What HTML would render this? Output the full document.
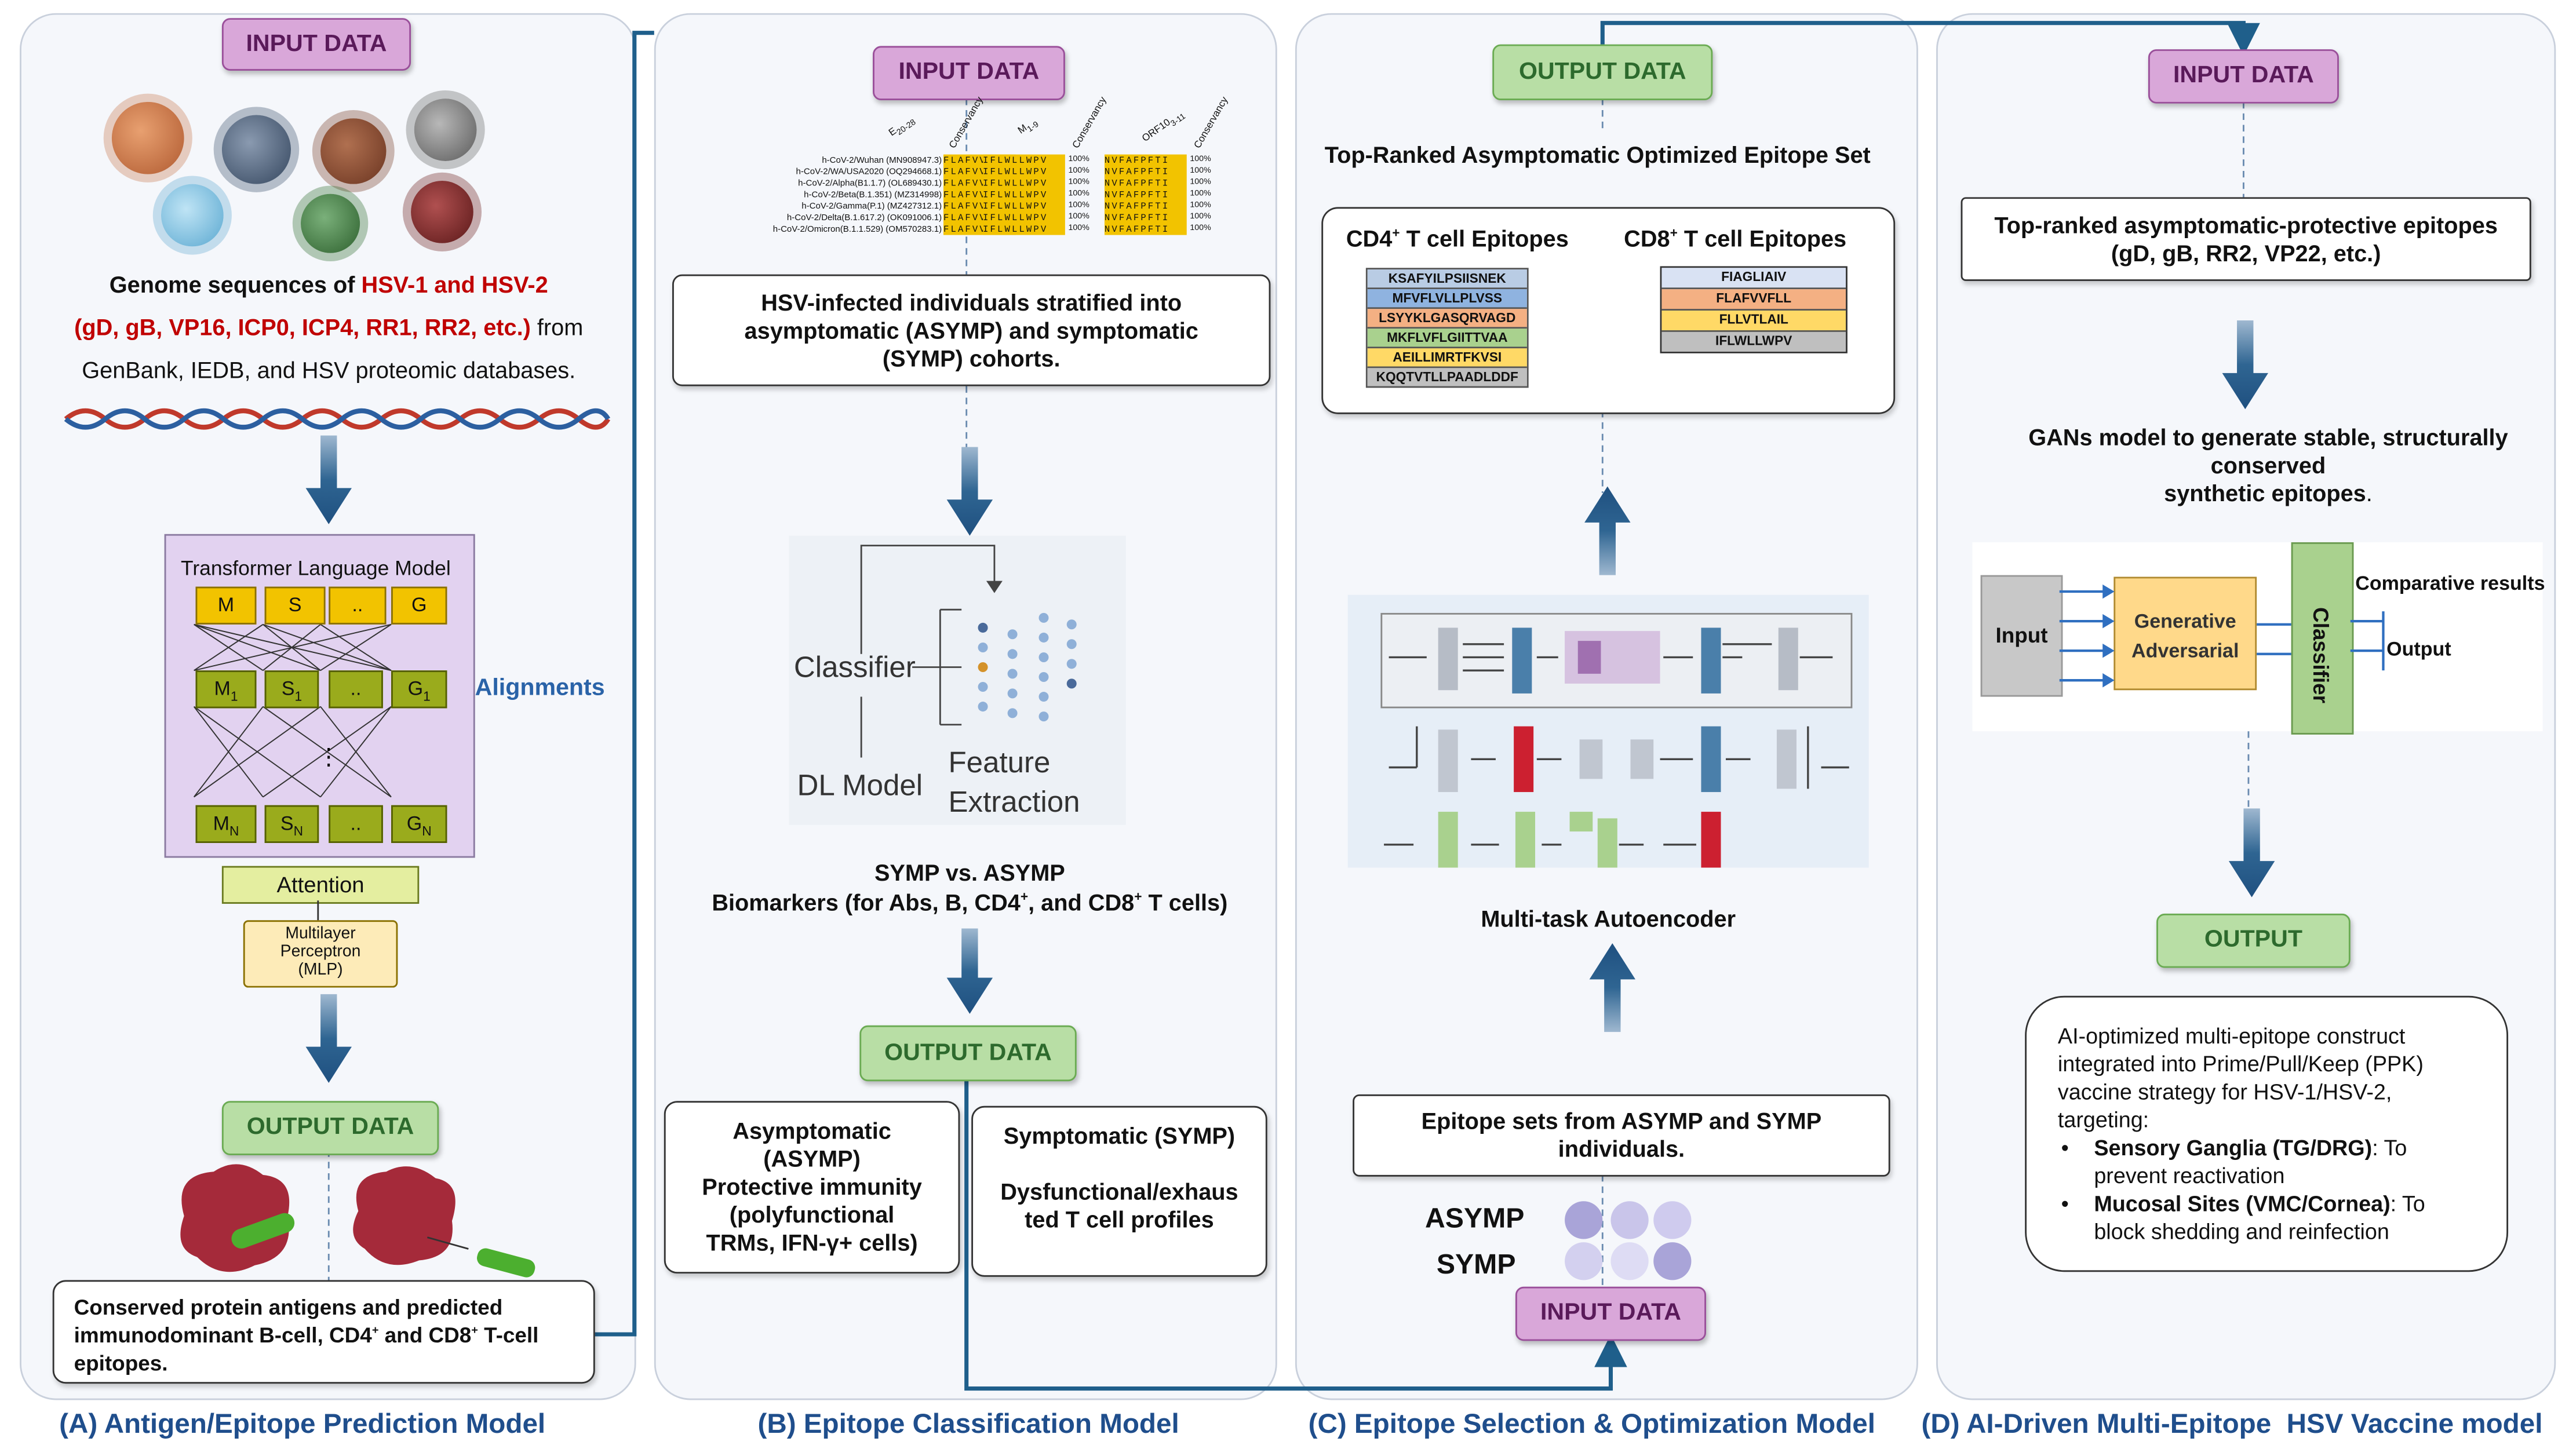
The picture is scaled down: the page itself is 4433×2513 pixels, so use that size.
<!DOCTYPE html>
<html><head><meta charset="utf-8">
<style>
html,body{margin:0;padding:0;background:#fff;}
body{width:4433px;height:2513px;overflow:hidden;}
#s{position:absolute;left:0;top:0;width:1563px;height:886px;transform:scale(2.8362);transform-origin:0 0;font-family:"Liberation Sans",sans-serif;color:#111;}
.a{position:absolute;}
.panel{position:absolute;top:8px;height:842px;background:#f5f7fb;border:1px solid #c9d0dc;border-radius:22px;}
.cap{position:absolute;top:857px;font-size:16.8px;font-weight:bold;color:#1f4e8c;white-space:nowrap;}
.inp{position:absolute;background:#d9a7d9;border:1.5px solid #9a4f9a;border-radius:5px;color:#5a1a5a;font-weight:bold;font-size:14.5px;text-align:center;box-shadow:1px 2px 3px rgba(0,0,0,.25);}
.out{position:absolute;background:#b8dea5;border:1.5px solid #6aab52;border-radius:5px;color:#2d6a2d;font-weight:bold;font-size:14.5px;text-align:center;box-shadow:1px 2px 3px rgba(0,0,0,.25);}
.box{position:absolute;background:#fff;border:1.3px solid #333;border-radius:6px;font-size:14px;font-weight:bold;text-align:center;box-shadow:1px 2px 3px rgba(0,0,0,.2);}
.t{position:absolute;font-size:14px;font-weight:bold;text-align:center;white-space:nowrap;}
.y{position:absolute;background:#f2c300;border:1px solid #8a7000;font-size:12px;text-align:center;line-height:20px;}
.g{position:absolute;background:#9aab1c;border:1px solid #556000;font-size:12px;text-align:center;line-height:20px;}
.vir{position:absolute;border-radius:50%;}
.ep{height:11px;font-size:8px;font-weight:bold;text-align:center;line-height:11px;border-bottom:1px solid #555;}
.al{position:absolute;background:#f2c300;font-size:5.5px;line-height:7px;font-family:'Liberation Mono',monospace;white-space:nowrap;letter-spacing:1.1px;overflow:hidden;height:49px;}
</style></head><body><div id="s">

<div class="panel" style="left:12px;width:373px;"></div>
<div class="panel" style="left:398px;width:377px;"></div>
<div class="panel" style="left:788px;width:377px;"></div>
<div class="panel" style="left:1178px;width:375px;"></div>

<div class="cap" style="left:36px;">(A) Antigen/Epitope Prediction Model</div>
<div class="cap" style="left:461px;">(B) Epitope Classification Model</div>
<div class="cap" style="left:796px;">(C) Epitope Selection &amp; Optimization Model</div>
<div class="cap" style="left:1169px;">(D) AI-Driven Multi-Epitope &nbsp;HSV Vaccine model</div>

<svg class="a" style="left:0;top:0" width="1563" height="886">
<defs><marker id="ah" markerWidth="8" markerHeight="8" refX="4" refY="4" orient="auto"><path d="M0,0L8,4L0,8z" fill="#1f5f8b"/></marker></defs>
<polyline points="362,812 386,812 386,20 398,20" fill="none" stroke="#1f5f8b" stroke-width="2.5"/>
<polyline points="588,657 588,845 980,845 980,822" fill="none" stroke="#1f5f8b" stroke-width="2.5" marker-end="url(#ah)"/>
<polyline points="975,27 975,14 1365,14 1365,24" fill="none" stroke="#1f5f8b" stroke-width="2.5" marker-end="url(#ah)"/>
<g stroke="#6a8bb0" stroke-width="1" stroke-dasharray="4,3">
<line x1="200" y1="700" x2="200" y2="780"/>
<line x1="588" y1="60" x2="588" y2="167"/>
<line x1="588" y1="235" x2="588" y2="280"/>
<line x1="975" y1="60" x2="975" y2="80"/>
<line x1="975" y1="250" x2="975" y2="300"/>
<line x1="975" y1="715" x2="975" y2="783"/>
<line x1="1365" y1="62" x2="1365" y2="120"/>
<line x1="1368" y1="445" x2="1368" y2="500"/>
</g>
<defs><linearGradient id="ag" x1="0" x2="0" y1="0" y2="1"><stop offset="0" stop-color="#9fb8d0"/><stop offset=".5" stop-color="#2f6592"/><stop offset="1" stop-color="#1f5080"/></linearGradient>
<linearGradient id="agu" x1="0" x2="0" y1="1" y2="0"><stop offset="0" stop-color="#9fb8d0"/><stop offset=".5" stop-color="#2f6592"/><stop offset="1" stop-color="#1f5080"/></linearGradient></defs>
<path d="M195,265h10v32h9l-14,22l-14,-22h9z" fill="url(#ag)"/>
<path d="M195,605h10v32h9l-14,22l-14,-22h9z" fill="url(#ag)"/>
<path d="M585,272h10v32h9l-14,22l-14,-22h9z" fill="url(#ag)"/>
<path d="M585,565h10v30h9l-14,22l-14,-22h9z" fill="url(#ag)"/>
<path d="M1361,195h10v32h9l-14,22l-14,-22h9z" fill="url(#ag)"/>
<path d="M1365,492h10v32h9l-14,22l-14,-22h9z" fill="url(#ag)"/>
<path d="M973,350h10v-32h9l-14,-22l-14,22h9z" fill="url(#agu)"/>
<path d="M976,628h10v-32h9l-14,-22l-14,22h9z" fill="url(#agu)"/>
<path d="M40,255 Q52,245 64,255 T88,255 T112,255 T136,255 T160,255 T184,255 T208,255 T232,255 T256,255 T280,255 T304,255 T328,255 T352,255 T370,255" fill="none" stroke="#c0392b" stroke-width="3"/>
<path d="M40,255 Q52,265 64,255 T88,255 T112,255 T136,255 T160,255 T184,255 T208,255 T232,255 T256,255 T280,255 T304,255 T328,255 T352,255 T370,255" fill="none" stroke="#2c5fa0" stroke-width="3"/>
</svg>

<!-- Panel A -->
<div class="inp" style="left:135px;top:11px;width:113px;height:30px;line-height:30px;">INPUT DATA</div>
<div class="vir" style="left:68px;top:62px;width:44px;height:44px;background:radial-gradient(circle at 40% 40%,#e8a070,#b05a30);box-shadow:0 0 0 5px rgba(200,120,80,.35);"></div>
<div class="vir" style="left:135px;top:70px;width:42px;height:42px;background:radial-gradient(circle at 40% 40%,#8a9ab0,#34465e);box-shadow:0 0 0 5px rgba(60,80,110,.35);"></div>
<div class="vir" style="left:195px;top:72px;width:40px;height:40px;background:radial-gradient(circle at 40% 40%,#b07050,#6a3420);box-shadow:0 0 0 5px rgba(120,60,40,.35);"></div>
<div class="vir" style="left:252px;top:60px;width:38px;height:38px;background:radial-gradient(circle at 40% 40%,#b8b8b8,#5a5a5a);box-shadow:0 0 0 5px rgba(100,100,100,.35);"></div>
<div class="vir" style="left:98px;top:112px;width:38px;height:38px;background:radial-gradient(circle at 40% 40%,#bfe4f5,#5aa8d0);box-shadow:0 0 0 5px rgba(100,170,210,.35);"></div>
<div class="vir" style="left:183px;top:118px;width:36px;height:36px;background:radial-gradient(circle at 40% 40%,#7ab07a,#2d602d);box-shadow:0 0 0 5px rgba(50,110,50,.35);"></div>
<div class="vir" style="left:250px;top:110px;width:38px;height:38px;background:radial-gradient(circle at 40% 40%,#b05050,#5a1818);box-shadow:0 0 0 5px rgba(110,30,30,.35);"></div>
<div class="t" style="left:20px;top:160px;width:360px;font-size:14px;line-height:26px;">Genome sequences of <span style="color:#c00000">HSV-1 and HSV-2</span><br><span style="color:#c00000">(gD, gB, VP16, ICP0, ICP4, RR1, RR2, etc.)</span> <span style="font-weight:normal">from</span><br><span style="font-weight:normal">GenBank, IEDB, and HSV proteomic databases.</span></div>

<div class="a" style="left:100px;top:325px;width:187px;height:195px;background:#e2d2f0;border:1px solid #8a7aa0;"></div>
<div class="a" style="left:110px;top:339px;font-size:12.5px;">Transformer Language Model</div>
<svg class="a" style="left:100px;top:325px" width="187" height="195"><g stroke="#333" stroke-width=".7" fill="none">
<path d="M18,55L60,83M18,55L95,83M18,55L138,83M60,55L18,83M60,55L95,83M95,55L60,83M95,55L138,83M138,55L18,83M138,55L95,83M60,55L138,83"/>
<path d="M18,105L60,160M18,105L95,160M60,105L18,160M60,105L138,160M95,105L18,160M95,105L138,160M138,105L60,160M138,105L95,160"/>
</g><text x="93" y="140" font-size="14">⋮</text></svg>
<div class="y" style="left:119px;top:357px;width:35px;height:21px;">M</div>
<div class="y" style="left:161px;top:357px;width:35px;height:21px;">S</div>
<div class="y" style="left:200px;top:357px;width:33px;height:21px;">..</div>
<div class="y" style="left:238px;top:357px;width:32px;height:21px;">G</div>
<div class="g" style="left:119px;top:408px;width:35px;height:21px;">M<sub style="font-size:8px">1</sub></div>
<div class="g" style="left:161px;top:408px;width:31px;height:21px;">S<sub style="font-size:8px">1</sub></div>
<div class="g" style="left:200px;top:408px;width:31px;height:21px;">..</div>
<div class="g" style="left:238px;top:408px;width:32px;height:21px;">G<sub style="font-size:8px">1</sub></div>
<div class="g" style="left:119px;top:490px;width:35px;height:21px;">M<sub style="font-size:8px">N</sub></div>
<div class="g" style="left:161px;top:490px;width:31px;height:21px;">S<sub style="font-size:8px">N</sub></div>
<div class="g" style="left:200px;top:490px;width:31px;height:21px;">..</div>
<div class="g" style="left:238px;top:490px;width:32px;height:21px;">G<sub style="font-size:8px">N</sub></div>
<div class="t" style="left:289px;top:411px;color:#2a63a8;font-size:14.5px;">Alignments</div>
<div class="a" style="left:135px;top:527px;width:118px;height:21px;background:#e4eea0;border:1px solid #6a7a20;font-size:13.5px;text-align:center;line-height:21px;">Attention</div>
<div class="a" style="left:193px;top:548px;width:1px;height:12px;background:#333;"></div>
<div class="a" style="left:148px;top:560px;width:92px;height:37px;background:#fdebb8;border:1px solid #8a7000;border-radius:3px;font-size:10px;text-align:center;line-height:11px;padding-top:2px;">Multilayer<br>Perceptron<br>(MLP)</div>
<div class="out" style="left:135px;top:670px;width:130px;height:31px;line-height:31px;">OUTPUT DATA</div>
<svg class="a" style="left:100px;top:705px" width="240" height="75">
<path d="M12,35 Q5,10 30,8 Q45,-2 60,10 Q80,12 75,35 Q80,60 55,65 Q35,75 20,60 Q5,55 12,35z" fill="#a52a3a"/>
<rect x="40" y="38" width="40" height="12" rx="6" fill="#4caf2f" transform="rotate(-20 60 44)"/>
<path d="M118,32 Q112,10 135,8 Q150,0 165,12 Q182,15 175,38 Q178,60 155,62 Q135,70 122,55 Q110,48 118,32z" fill="#a52a3a"/>
<rect x="190" y="58" width="36" height="11" rx="5" fill="#4caf2f" transform="rotate(15 208 63)"/>
<path d="M185,55 L160,48" stroke="#333" stroke-width="1"/>
</svg>
<div class="box" style="left:32px;top:779px;width:330px;height:63px;text-align:left;font-size:13px;line-height:17px;padding:7px 8px 0 12px;box-sizing:border-box;border-radius:8px;">Conserved protein antigens and predicted immunodominant B-cell, CD4<sup style="font-size:7px;line-height:0">+</sup> and CD8<sup style="font-size:7px;line-height:0">+</sup> T-cell epitopes.</div>

<!-- Panel B -->
<div class="inp" style="left:531px;top:28px;width:115px;height:31px;line-height:31px;">INPUT DATA</div>
<div class="a" style="left:400px;top:95px;width:173px;font-size:5.3px;line-height:7px;text-align:right;white-space:nowrap;">h-CoV-2/Wuhan (MN908947.3)<br>h-CoV-2/WA/USA2020 (OQ294668.1)<br>h-CoV-2/Alpha(B1.1.7) (OL689430.1)<br>h-CoV-2/Beta(B.1.351) (MZ314998)<br>h-CoV-2/Gamma(P.1) (MZ427312.1)<br>h-CoV-2/Delta(B.1.617.2) (OK091006.1)<br>h-CoV-2/Omicron(B.1.1.529) (OM570283.1)</div>
<div class="a" style="left:541px;top:74px;font-size:6px;transform:rotate(-35deg);white-space:nowrap;">E<sub>20-28</sub></div>
<div class="a" style="left:571px;top:72px;font-size:6px;transform:rotate(-60deg);white-space:nowrap;">Conservancy</div>
<div class="a" style="left:620px;top:74px;font-size:6px;transform:rotate(-35deg);white-space:nowrap;">M<sub>1-9</sub></div>
<div class="a" style="left:646px;top:72px;font-size:6px;transform:rotate(-60deg);white-space:nowrap;">Conservancy</div>
<div class="a" style="left:694px;top:74px;font-size:6px;transform:rotate(-35deg);white-space:nowrap;">ORF10<sub>3-11</sub></div>
<div class="a" style="left:720px;top:72px;font-size:6px;transform:rotate(-60deg);white-space:nowrap;">Conservancy</div>
<div class="al" style="left:574px;top:94px;width:44px;">FLAFVVFLL<br>FLAFVVFLL<br>FLAFVVFLL<br>FLAFVVFLL<br>FLAFVVFLL<br>FLAFVVFLL<br>FLAFVVFLL</div>
<div class="a" style="left:574px;top:94px;font-size:5px;line-height:7px;margin-left:46px;">100%<br>100%<br>100%<br>100%<br>100%<br>100%<br>100%</div>
<div class="al" style="left:598px;top:94px;width:50px;">IFLWLLWPV<br>IFLWLLWPV<br>IFLWLLWPV<br>IFLWLLWPV<br>IFLWLLWPV<br>IFLWLLWPV<br>IFLWLLWPV</div>
<div class="a" style="left:650px;top:94px;font-size:5px;line-height:7px;">100%<br>100%<br>100%<br>100%<br>100%<br>100%<br>100%</div>
<div class="al" style="left:672px;top:94px;width:50px;">NVFAFPFTI<br>NVFAFPFTI<br>NVFAFPFTI<br>NVFAFPFTI<br>NVFAFPFTI<br>NVFAFPFTI<br>NVFAFPFTI</div>
<div class="a" style="left:724px;top:94px;font-size:5px;line-height:7px;">100%<br>100%<br>100%<br>100%<br>100%<br>100%<br>100%</div>
<div class="box" style="left:409px;top:167px;width:364px;height:68px;font-size:14px;line-height:17px;padding-top:8px;box-sizing:border-box;">HSV-infected individuals stratified into<br>asymptomatic (ASYMP) and symptomatic<br>(SYMP) cohorts.</div>
<div class="a" style="left:480px;top:326px;width:205px;height:176px;background:#edf1f6;"></div>
<svg class="a" style="left:480px;top:326px" width="205" height="176"><g stroke="#444" stroke-width="1" fill="none">
<polyline points="44,72 44,6 125,6 125,30"/><path d="M121,28l4,6l4,-6z" fill="#444"/>
<line x1="44" y1="98" x2="44" y2="135"/>
<polyline points="92,45 92,115"/><line x1="92" y1="45" x2="105" y2="45"/><line x1="92" y1="80" x2="105" y2="80"/><line x1="92" y1="115" x2="105" y2="115"/>
<line x1="75" y1="80" x2="92" y2="80"/>
</g>
<g fill="#8fb0d8"><circle cx="118" cy="56" r="3"/><circle cx="118" cy="68" r="3"/><circle cx="118" cy="92" r="3"/><circle cx="118" cy="104" r="3"/>
<circle cx="136" cy="60" r="3"/><circle cx="136" cy="72" r="3"/><circle cx="136" cy="84" r="3"/><circle cx="136" cy="96" r="3"/><circle cx="136" cy="108" r="3"/>
<circle cx="155" cy="50" r="3"/><circle cx="155" cy="62" r="3"/><circle cx="155" cy="74" r="3"/><circle cx="155" cy="86" r="3"/><circle cx="155" cy="98" r="3"/><circle cx="155" cy="110" r="3"/>
<circle cx="172" cy="54" r="3"/><circle cx="172" cy="66" r="3"/><circle cx="172" cy="78" r="3"/></g>
<circle cx="118" cy="80" r="3" fill="#d4922a"/><circle cx="172" cy="90" r="3" fill="#4a6a9a"/><circle cx="118" cy="56" r="3" fill="#4a6a9a"/></svg>
<div class="a" style="left:483px;top:396px;font-size:18px;color:#333;">Classifier</div>
<div class="a" style="left:485px;top:468px;font-size:18px;color:#333;">DL Model</div>
<div class="a" style="left:577px;top:452px;font-size:18px;color:#333;line-height:24px;text-align:left;">Feature<br>Extraction</div>
<div class="t" style="left:400px;top:522px;width:380px;line-height:18px;">SYMP vs. ASYMP<br>Biomarkers (for Abs, B, CD4<sup style="font-size:8px;line-height:0">+</sup>, and CD8<sup style="font-size:8px;line-height:0">+</sup> T cells)</div>
<div class="out" style="left:523px;top:624px;width:130px;height:32px;line-height:32px;">OUTPUT DATA</div>
<div class="box" style="left:404px;top:670px;width:180px;height:105px;font-size:14px;line-height:17px;padding-top:9px;box-sizing:border-box;border-radius:8px;">Asymptomatic<br>(ASYMP)<br>Protective immunity<br>(polyfunctional<br>TRMs, IFN-γ+ cells)</div>
<div class="box" style="left:591px;top:673px;width:180px;height:104px;font-size:14px;line-height:17px;padding-top:9px;box-sizing:border-box;border-radius:8px;">Symptomatic (SYMP)<br><br>Dysfunctional/exhaus<br>ted T cell profiles</div>

<!-- Panel C -->
<div class="out" style="left:908px;top:27px;width:132px;height:32px;line-height:32px;">OUTPUT DATA</div>
<div class="t" style="left:790px;top:86px;width:364px;">Top-Ranked Asymptomatic Optimized Epitope Set</div>
<div class="box" style="left:804px;top:126px;width:347px;height:124px;border-radius:10px;"></div>
<div class="t" style="left:819px;top:137px;font-size:14px;">CD4<sup style="font-size:8px">+</sup> T cell Epitopes</div>
<div class="t" style="left:988px;top:137px;font-size:14px;">CD8<sup style="font-size:8px">+</sup> T cell Epitopes</div>
<div class="a" style="left:831px;top:163px;width:97px;border:1px solid #555;">
<div class="ep" style="background:#b9cce4">KSAFYILPSIISNEK</div>
<div class="ep" style="background:#8fb3e0">MFVFLVLLPLVSS</div>
<div class="ep" style="background:#f4b083">LSYYKLGASQRVAGD</div>
<div class="ep" style="background:#a9d18e">MKFLVFLGIITTVAA</div>
<div class="ep" style="background:#ffd966">AEILLIMRTFKVSI</div>
<div class="ep" style="background:#bfbfbf;border-bottom:0">KQQTVTLLPAADLDDF</div></div>
<div class="a" style="left:1010px;top:162px;width:112px;border:1.5px solid #333;">
<div class="ep" style="background:#d9e2f3;height:12px">FIAGLIAIV</div>
<div class="ep" style="background:#f4b083;height:12px">FLAFVVFLL</div>
<div class="ep" style="background:#ffd966;height:12px">FLLVTLAIL</div>
<div class="ep" style="background:#bfbfbf;height:12px;border-bottom:0">IFLWLLWPV</div></div>
<div class="a" style="left:820px;top:362px;width:317px;height:166px;background:#e6eef7;"></div>
<div class="a" style="left:840px;top:373px;width:285px;height:56px;background:#eceff3;border:1px solid #888;"></div>
<svg class="a" style="left:820px;top:362px" width="317" height="166"><g stroke="#444" stroke-width="1.2" fill="#444">
<line x1="25" y1="38" x2="48" y2="38"/><line x1="70" y1="30" x2="95" y2="30"/><line x1="70" y1="38" x2="95" y2="38"/><line x1="70" y1="46" x2="95" y2="46"/>
<line x1="115" y1="38" x2="128" y2="38"/><line x1="192" y1="38" x2="210" y2="38"/><line x1="228" y1="30" x2="258" y2="30"/><line x1="228" y1="38" x2="240" y2="38"/><line x1="275" y1="38" x2="295" y2="38"/>
<line x1="25" y1="105" x2="42" y2="105"/><line x1="42" y1="105" x2="42" y2="80"/><line x1="75" y1="100" x2="90" y2="100"/><line x1="115" y1="100" x2="130" y2="100"/><line x1="190" y1="100" x2="210" y2="100"/><line x1="230" y1="100" x2="245" y2="100"/><line x1="280" y1="80" x2="280" y2="118"/><line x1="288" y1="105" x2="305" y2="105"/>
<line x1="22" y1="152" x2="40" y2="152"/><line x1="75" y1="152" x2="92" y2="152"/><line x1="118" y1="152" x2="130" y2="152"/><line x1="165" y1="152" x2="180" y2="152"/><line x1="192" y1="152" x2="212" y2="152"/></g>
<rect x="55" y="20" width="12" height="38" fill="#b6bcc6"/><rect x="100" y="20" width="12" height="40" fill="#4a7faa"/>
<rect x="132" y="22" width="58" height="32" fill="#d6c2e0"/><rect x="140" y="28" width="14" height="20" fill="#a070b0"/>
<rect x="215" y="20" width="12" height="40" fill="#4a7faa"/><rect x="262" y="20" width="12" height="38" fill="#b6bcc6"/>
<rect x="55" y="82" width="12" height="38" fill="#c0c6d0"/><rect x="101" y="80" width="12" height="40" fill="#cc2030"/><rect x="141" y="88" width="14" height="24" fill="#c0c6d0"/><rect x="172" y="88" width="14" height="24" fill="#c0c6d0"/><rect x="215" y="80" width="12" height="40" fill="#4a7faa"/><rect x="261" y="82" width="12" height="36" fill="#c0c6d0"/>
<rect x="55" y="132" width="12" height="34" fill="#a9d18e"/><rect x="102" y="132" width="12" height="34" fill="#a9d18e"/><rect x="135" y="132" width="14" height="12" fill="#a9d18e"/><rect x="152" y="136" width="12" height="30" fill="#a9d18e"/><rect x="215" y="132" width="12" height="34" fill="#cc2030"/>
</svg>
<div class="t" style="left:790px;top:551px;width:377px;">Multi-task Autoencoder</div>
<div class="box" style="left:823px;top:666px;width:327px;height:50px;font-size:14px;line-height:17px;padding-top:7px;box-sizing:border-box;border-radius:4px;">Epitope sets from ASYMP and SYMP<br>individuals.</div>
<div class="t" style="left:867px;top:732px;font-size:17px;">ASYMP</div>
<div class="t" style="left:874px;top:760px;font-size:17px;">SYMP</div>
<div class="vir" style="left:952px;top:731px;width:23px;height:23px;background:#a9a4d8;"></div>
<div class="vir" style="left:980px;top:731px;width:23px;height:23px;background:#c9c5ea;"></div>
<div class="vir" style="left:1006px;top:731px;width:23px;height:23px;background:#cfcbee;"></div>
<div class="vir" style="left:952px;top:756px;width:23px;height:23px;background:#d3d0ef;"></div>
<div class="vir" style="left:980px;top:756px;width:23px;height:23px;background:#dedcf4;"></div>
<div class="vir" style="left:1006px;top:756px;width:23px;height:23px;background:#a9a4d8;"></div>
<div class="inp" style="left:922px;top:783px;width:114px;height:31px;line-height:31px;">INPUT DATA</div>

<!-- Panel D -->
<div class="inp" style="left:1307px;top:30px;width:114px;height:31px;line-height:31px;">INPUT DATA</div>
<div class="box" style="left:1193px;top:120px;width:347px;height:51px;font-size:14px;line-height:17px;padding-top:8px;box-sizing:border-box;border-radius:3px;">Top-ranked asymptomatic-protective epitopes<br>(gD, gB, RR2, VP22, etc.)</div>
<div class="t" style="left:1190px;top:258px;width:380px;line-height:17px;">GANs model to generate stable, structurally<br>conserved<br><span style="font-weight:bold">synthetic epitopes</span><span style="font-weight:normal">.</span></div>
<div class="a" style="left:1200px;top:330px;width:347px;height:115px;background:#fff;"></div>
<div class="a" style="left:1205px;top:350px;width:48px;height:72px;background:#c8c8c8;border:1px solid #999;font-size:13px;font-weight:bold;line-height:72px;text-align:center;">Input</div>
<div class="a" style="left:1286px;top:351px;width:87px;height:69px;background:#ffd98a;border:1px solid #b08a30;font-size:12px;font-weight:bold;text-align:center;line-height:18px;padding-top:17px;box-sizing:border-box;color:#333;">Generative<br>Adversarial</div>
<div class="a" style="left:1394px;top:330px;width:36px;height:115px;background:#a9d18e;border:1px solid #6a9a50;"></div>
<div class="a" style="left:1394px;top:380px;width:36px;font-size:13px;font-weight:bold;transform:rotate(90deg);transform-origin:center;text-align:center;">Classifier</div>
<svg class="a" style="left:1200px;top:330px" width="360" height="115"><g stroke="#2f6fc0" stroke-width="1.5" fill="#2f6fc0">
<line x1="53" y1="30" x2="82" y2="30"/><path d="M80,27l5,3l-5,3z"/>
<line x1="53" y1="48" x2="82" y2="48"/><path d="M80,45l5,3l-5,3z"/>
<line x1="53" y1="66" x2="82" y2="66"/><path d="M80,63l5,3l-5,3z"/>
<line x1="53" y1="84" x2="82" y2="84"/><path d="M80,81l5,3l-5,3z"/>
<line x1="173" y1="50" x2="194" y2="50"/><line x1="173" y1="68" x2="194" y2="68"/>
<line x1="230" y1="48" x2="250" y2="48"/><line x1="230" y1="66" x2="250" y2="66"/>
<line x1="250" y1="42" x2="250" y2="78"/></g></svg>
<div class="t" style="left:1433px;top:348px;font-size:12px;">Comparative results</div>
<div class="t" style="left:1452px;top:388px;font-size:12px;">Output</div>
<div class="out" style="left:1312px;top:556px;width:116px;height:31px;line-height:31px;">OUTPUT</div>
<div class="a" style="left:1232px;top:606px;width:294px;height:168px;background:#fff;border:1.3px solid #333;border-radius:24px;font-size:13.3px;line-height:17px;padding:15px 20px 0 19px;box-sizing:border-box;">AI-optimized multi-epitope construct integrated into Prime/Pull/Keep (PPK) vaccine strategy for HSV-1/HSV-2, targeting:
<div style="position:relative;padding-left:22px;margin-top:0"><span style="position:absolute;left:2px">•</span><b>Sensory Ganglia (TG/DRG)</b>: To prevent reactivation</div>
<div style="position:relative;padding-left:22px"><span style="position:absolute;left:2px">•</span><b>Mucosal Sites (VMC/Cornea)</b>: To block shedding and reinfection</div></div>

</div></body></html>
